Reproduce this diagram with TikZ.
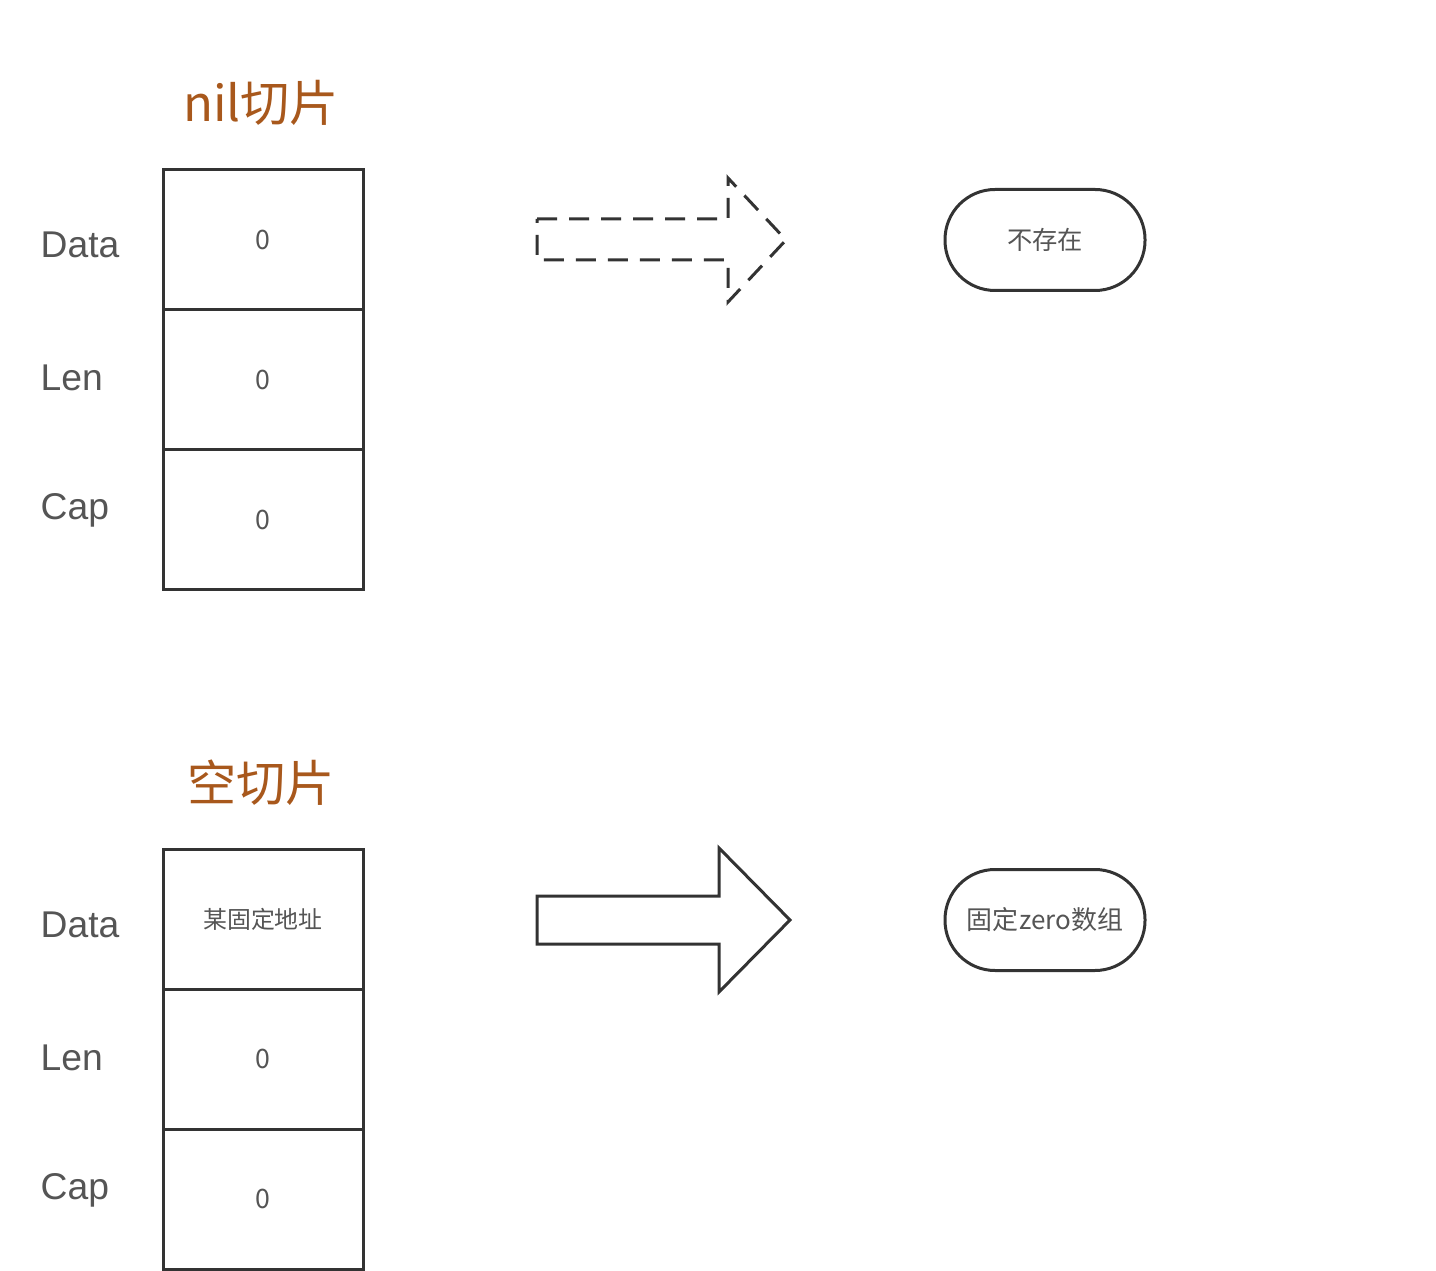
\documentclass[tikz,border=0pt]{standalone}
\usepackage{fontspec}
\usepackage{xcolor}
\setmainfont{Liberation Sans}
\newfontfamily\cjk{Noto Sans CJK SC}
\definecolor{titlebrown}{RGB}{168,88,28}
\definecolor{linegray}{RGB}{51,51,51}
\definecolor{textgray}{RGB}{85,85,85}
\tikzset{
  cell/.style={draw=linegray, line width=0.03cm, minimum width=2cm, minimum height=1.4cm,
    inner sep=0pt, font=\cjk\fontsize{7.6}{9}\selectfont, text=textgray},
  lbl/.style={anchor=west, inner sep=0pt, font=\fontsize{10.6}{12}\selectfont, text=textgray},
  title/.style={font=\cjk\fontsize{14}{16}\selectfont, text=titlebrown},
  term/.style={draw=linegray, line width=0.03cm, rounded corners=0.5cm, minimum width=2cm,
    minimum height=1.01cm, font=\cjk\fontsize{7.2}{9}\selectfont, text=textgray},
  bigarrow/.style={draw=linegray, line width=0.03cm, line join=miter}
}
\begin{document}
\begin{tikzpicture}
            \useasboundingbox (0,0) rectangle (14.36,12.70);

            %% nil slice
            \node[title] (niltitle) at (2.61,11.67) {nil切片};
            \node[cell] (nildata) at (2.63,10.30) {0};
            \node[cell] (nillen)  at (2.63,8.90)  {0};
            \node[cell] (nilcap)  at (2.63,7.50)  {0};

            \node[lbl] (nildatalbl) at (0.40,10.25) {Data};
            \node[lbl] (nillenlbl)  at (0.40,8.92)  {Len};
            \node[lbl] (nilcaplbl)  at (0.40,7.60)  {Cap};

            \draw[bigarrow, dash pattern=on 0.2cm off 0.12cm]
                (5.37,10.51) -- (7.28,10.51) -- (7.28,10.92) -- (7.86,10.30)
                -- (7.28,9.68) -- (7.28,10.10) -- (5.37,10.10) -- cycle;

            \node[term] (nilptr) at (10.45,10.30) {不存在};


            %% empty slice
            \node[title] (emptytitle) at (2.61,4.87) {空切片};
            \node[cell] (emptydata) at (2.63,3.51) {\fontsize{6.8}{8}\selectfont 某固定地址};
            \node[cell] (emptylen)  at (2.63,2.11) {0};
            \node[cell] (emptycap)  at (2.63,0.71) {0};

            \node[lbl] (emptydatalbl) at (0.40,3.45) {Data};
            \node[lbl] (emptylenlbl)  at (0.40,2.12) {Len};
            \node[lbl] (emptycaplbl)  at (0.40,0.80) {Cap};

            \draw[bigarrow]
                (5.37,3.74) -- (7.19,3.74) -- (7.19,4.22) -- (7.90,3.50)
                -- (7.19,2.78) -- (7.19,3.26) -- (5.37,3.26) -- cycle;

            \node[term] (emptyptr) at (10.45,3.50) {\fontsize{7.4}{9}\selectfont 固定zero数组};

        \end{tikzpicture}
\end{document}
